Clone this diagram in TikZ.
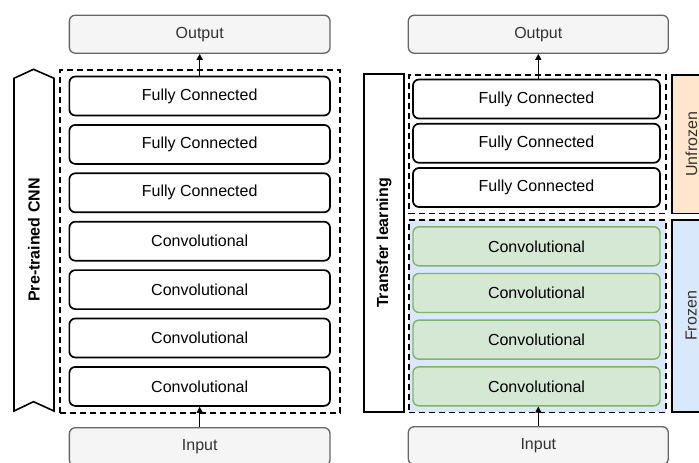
\documentclass[tikz,border=0pt]{standalone}
\usepackage{fontspec}
\setmainfont{Liberation Sans}
\usetikzlibrary{arrows.meta}

\definecolor{ioFill}{HTML}{F5F5F5}
\definecolor{ioLine}{HTML}{666666}
\definecolor{txtGray}{HTML}{333333}
\definecolor{frozFill}{HTML}{DAE8FC}
\definecolor{unfrFill}{HTML}{FFE6CC}
\definecolor{convFill}{HTML}{D5E8D4}
\definecolor{convLine}{HTML}{82B366}

\begin{document}
\begin{tikzpicture}[x=1pt,y=-1pt,
  lbl/.style={font=\fontsize{16}{19}\selectfont},
  iobox/.style={lbl, draw=ioLine, fill=ioFill, text=txtGray, line width=1.3pt,
    rounded corners=6pt, minimum height=38pt, inner sep=0pt},
  layer/.style={lbl, draw=black, fill=white, line width=1.7pt,
    rounded corners=6pt, minimum height=39pt, inner sep=0pt},
  frozenlayer/.style={layer, draw=convLine, fill=convFill, line width=1.4pt},
  group/.style={draw=black, line width=1.6pt, dash pattern=on 6pt off 4pt,
    inner sep=0pt},
  sidebox/.style={draw=black, line width=1.6pt, inner sep=0pt, minimum width=40pt},
  sidetext/.style={lbl, rotate=90, inner sep=0pt},
  arr/.style={line width=1.4pt, -{Triangle[length=6pt,width=6pt]}}
]
\useasboundingbox (0,0) rectangle (699,463);
\clip (0,0) rectangle (699,463);

% ---------- Pre-trained CNN ----------
\node[group, minimum width=280pt, minimum height=343pt] (grpL) at (200,241.5) {};
\node[iobox, minimum width=260.7pt] (outL) at (199.7,34.2) {Output};
\node[iobox, minimum width=260.7pt] (inL) at (199.7,446.7) {Input};
\foreach \i/\t in {1/Fully Connected,2/Fully Connected,3/Fully Connected,
                   4/Convolutional,5/Convolutional,6/Convolutional,7/Convolutional}{
  \node[layer, minimum width=260.7pt] (L\i) at (199.7,{96+48.4*(\i-1)}) {\t};
}
\draw[arr] (L1.north) -- (outL.south);
\draw[arr] (inL.north) -- (L7.south);

% banner with pointed top and notched bottom
\draw[line width=1.6pt, fill=white, line join=miter]
  (14,78.3) -- (33.5,69.3) -- (54,78.3) -- (54,411) -- (33.5,401.7) -- (14,411) -- cycle;
\node[sidetext, font=\fontsize{16}{19}\selectfont\bfseries] (banL) at (34,240) {Pre-trained CNN};

% ---------- Transfer learning ----------
\node[group, fill=frozFill, minimum width=257pt, minimum height=192.3pt] (grpF) at (537.5,316.2) {};
\node[group, minimum width=257pt, minimum height=138.3pt] (grpU) at (537.5,144.2) {};
\node[iobox, minimum width=260pt] (outR) at (538.3,34.2) {Output};
\node[iobox, minimum width=260pt] (inR) at (538.3,445.7) {Input};
\foreach \i in {1,2,3}{
  \node[layer, minimum width=247pt] (F\i) at (536.5,{99+44.25*(\i-1)}) {Fully Connected};
}
\foreach \i in {1,2,3,4}{
  \node[frozenlayer, minimum width=247pt] (C\i) at (536.5,{246.3+46.67*(\i-1)}) {Convolutional};
}
\draw[arr] (outR.south |- F1.north) -- (outR.south);
\draw[arr] (inR.north) -- (inR.north |- C4.south);

\node[sidebox, fill=white, minimum height=338pt] (tlBox) at (384,243) {};
\node[sidetext, font=\fontsize{16}{19}\selectfont\bfseries] (tlTxt) at (tlBox.center) {Transfer learning};

\node[sidebox, fill=unfrFill, minimum height=138.3pt] (unfr) at (691.7,144.2) {};
\node[sidetext, text=txtGray] (unfrTxt) at (691.3,144.2) {Unfrozen};
\node[sidebox, fill=frozFill, minimum height=191.7pt] (froz) at (691.7,315.9) {};
\node[sidetext, text=txtGray] (frozTxt) at (691.3,315.9) {Frozen};
\end{tikzpicture}
\end{document}
